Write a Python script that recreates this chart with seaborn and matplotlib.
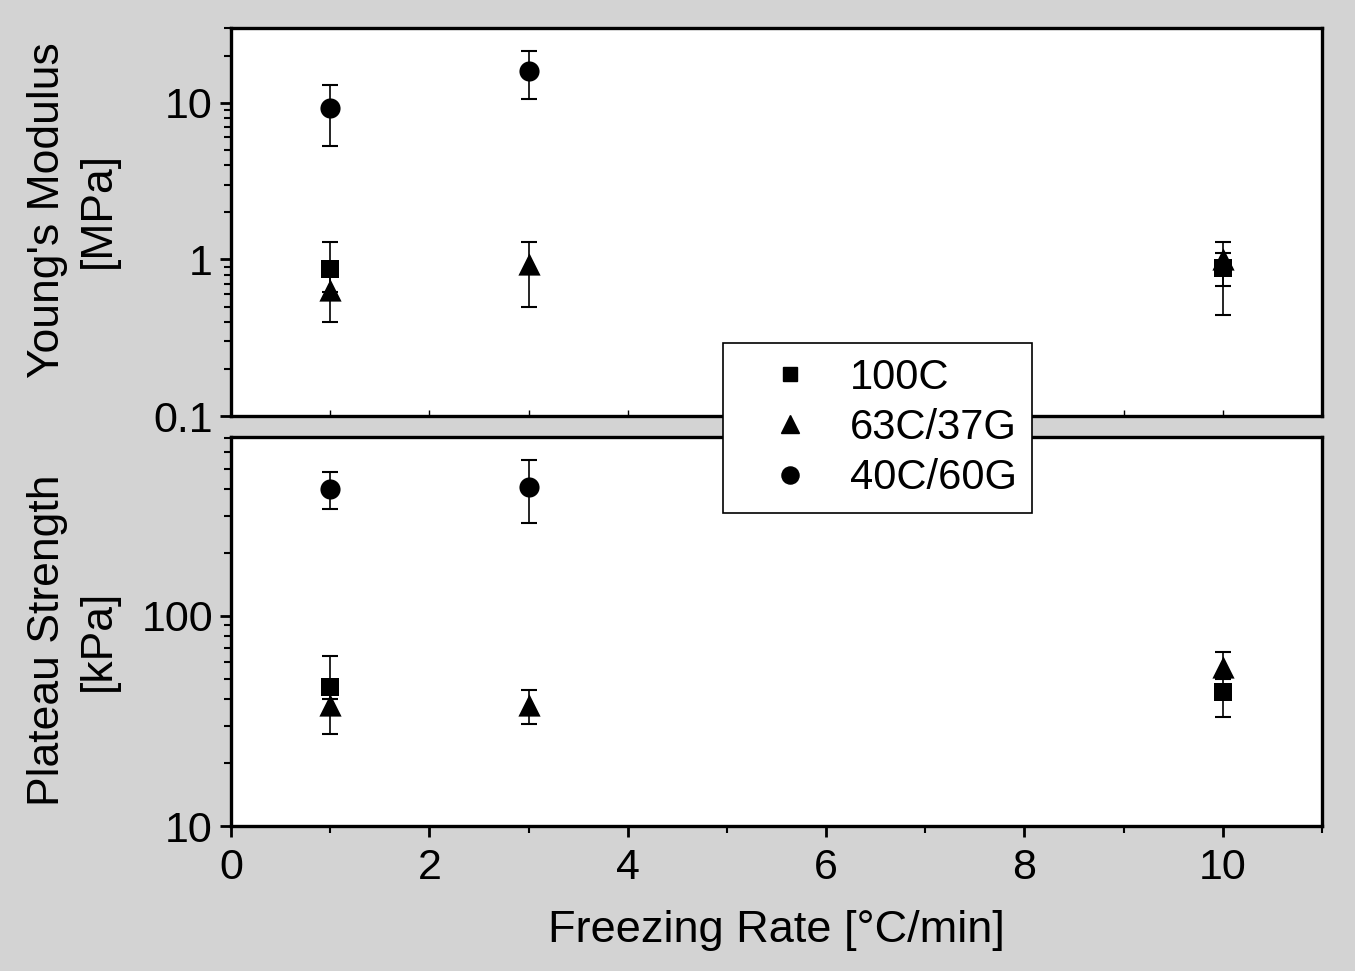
import numpy as np
import pandas as pd
import matplotlib
matplotlib.use("Agg")
import matplotlib.pyplot as plt
from matplotlib.lines import Line2D
from matplotlib.ticker import FixedLocator, LogLocator, NullFormatter, MultipleLocator
import seaborn as sns

# ---------------- data ----------------
groups = ["100C", "63C/37G", "40C/60G"]

# Young's modulus [MPa]
ym_x = {"100C": [1, 10], "63C/37G": [1, 3, 10], "40C/60G": [1, 3]}
ym_val = {"100C": [0.87, 0.88], "63C/37G": [0.64, 0.93, 1.00], "40C/60G": [9.2, 16.0]}
ym_lo = {"100C": [0.62, 0.44], "63C/37G": [0.40, 0.50, 0.68], "40C/60G": [5.3, 10.6]}
ym_hi = {"100C": [1.30, 1.10], "63C/37G": [0.80, 1.30, 1.30], "40C/60G": [13.0, 21.4]}

# Plateau strength [kPa]
ps_x = {"100C": [1, 10], "63C/37G": [1, 3, 10], "40C/60G": [1, 3]}
ps_val = {"100C": [46.0, 43.5], "63C/37G": [37.7, 37.7, 57.0], "40C/60G": [403, 411]}
ps_lo = {"100C": [40.0, 33.0], "63C/37G": [27.4, 30.6, 52.0], "40C/60G": [323, 277]}
ps_hi = {"100C": [64.5, 50.0], "63C/37G": [44.0, 44.4, 67.4], "40C/60G": [485, 553]}

ym_ticks = [0.1, 1, 10]
ym_ticklabels = ["0.1", "1", "10"]
ps_ticks = [10, 100]
ps_ticklabels = ["10", "100"]
x_ticks = [0, 2, 4, 6, 8, 10]

markers = {"100C": "s", "63C/37G": "^", "40C/60G": "o"}
msizes = {"100C": 12.5, "63C/37G": 16, "40C/60G": 14.5}

def make_df(xd, vd, lod, hid):
    rows = []
    for g in groups:
        for x, v, lo, hi in zip(xd[g], vd[g], lod[g], hid[g]):
            rows.append({"group": g, "x": x, "val": v, "lo": lo, "hi": hi})
    return pd.DataFrame(rows)

df_ym = make_df(ym_x, ym_val, ym_lo, ym_hi)
df_ps = make_df(ps_x, ps_val, ps_lo, ps_hi)

# ---------------- style ----------------
sns.set_style("ticks")
plt.rcParams["font.family"] = ["Liberation Sans", "DejaVu Sans"]
plt.rcParams["text.color"] = "black"
plt.rcParams["axes.labelcolor"] = "black"
plt.rcParams["xtick.color"] = "black"
plt.rcParams["ytick.color"] = "black"
bg = "#d3d3d3"

fig = plt.figure(figsize=(13.55, 9.71), dpi=100, facecolor=bg)
L, R = 231 / 1355, 1322 / 1355
ax1 = fig.add_axes([L, 1 - 416 / 971, R - L, (416 - 28) / 971])
ax2 = fig.add_axes([L, 1 - 826 / 971, R - L, (826 - 437) / 971])

def draw(ax, df):
    for g in groups:
        d = df[df["group"] == g]
        yerr = np.vstack([d["val"] - d["lo"], d["hi"] - d["val"]])
        ax.errorbar(d["x"], d["val"], yerr=yerr, fmt="none", ecolor="black",
                    elinewidth=1.2, capsize=5.5, capthick=1.5, zorder=2)
        sns.scatterplot(data=d, x="x", y="val", marker=markers[g],
                        s=msizes[g] ** 2, color="black", edgecolor="black",
                        linewidth=0, ax=ax, zorder=3, legend=False)

draw(ax1, df_ym)
draw(ax2, df_ps)

for ax in (ax1, ax2):
    ax.set_facecolor("white")
    ax.set_yscale("log")
    ax.set_xlim(0, 11)
    for s in ax.spines.values():
        s.set_visible(True)
        s.set_linewidth(2.4)
        s.set_color("black")
    ax.xaxis.set_major_locator(FixedLocator(x_ticks))
    ax.xaxis.set_minor_locator(MultipleLocator(1))
    ax.yaxis.set_minor_locator(LogLocator(base=10, subs=np.arange(2, 10)))
    ax.yaxis.set_minor_formatter(NullFormatter())
    ax.tick_params(axis="y", which="major", direction="out", length=8, width=2,
                   labelsize=31, pad=5, right=False, labelcolor="black")
    ax.tick_params(axis="y", which="minor", direction="out", length=5, width=1.5,
                   right=False)
    ax.grid(False)

ax1.set_ylim(0.1, 30)
ax1.yaxis.set_major_locator(FixedLocator(ym_ticks))
ax1.set_yticklabels(ym_ticklabels)
ax1.tick_params(axis="x", which="both", direction="in", length=4, width=1,
                labelbottom=False, top=False)

ax2.set_ylim(10, 710)
ax2.yaxis.set_major_locator(FixedLocator(ps_ticks))
ax2.set_yticklabels(ps_ticklabels)
ax2.set_xticklabels([str(t) for t in x_ticks])
ax2.tick_params(axis="x", which="major", direction="out", length=8, width=2,
                labelsize=31, pad=8, labelcolor="black")
ax2.tick_params(axis="x", which="minor", direction="out", length=5, width=1.5)

ax1.set_xlabel("")
ax1.set_ylabel("Young's Modulus\n[MPa]", fontsize=32, linespacing=1.3)
ax2.set_ylabel("Plateau Strength\n[kPa]", fontsize=32, linespacing=1.3)
ax2.set_xlabel("Freezing Rate [°C/min]", fontsize=32.5, labelpad=16)
ax1.yaxis.set_label_coords(-0.103, 0.53)
ax2.yaxis.set_label_coords(-0.103, 0.478)

handles = [Line2D([], [], linestyle="none", marker=markers[g], color="black",
                  markersize=msizes[g] * 0.85) for g in groups]
leg = fig.legend(handles, groups, loc="upper left",
                 bbox_to_anchor=(723 / 1355, 1 - 343 / 971),
                 frameon=True, fancybox=False, fontsize=30, borderaxespad=0,
                 handlelength=2.5, handletextpad=0.2, borderpad=0.35,
                 labelspacing=0.25)
leg.get_frame().set_edgecolor("black")
leg.get_frame().set_linewidth(1.2)
leg.get_frame().set_facecolor("white")
leg.get_frame().set_alpha(1)

fig.savefig("out.png", dpi=100, facecolor=bg)
